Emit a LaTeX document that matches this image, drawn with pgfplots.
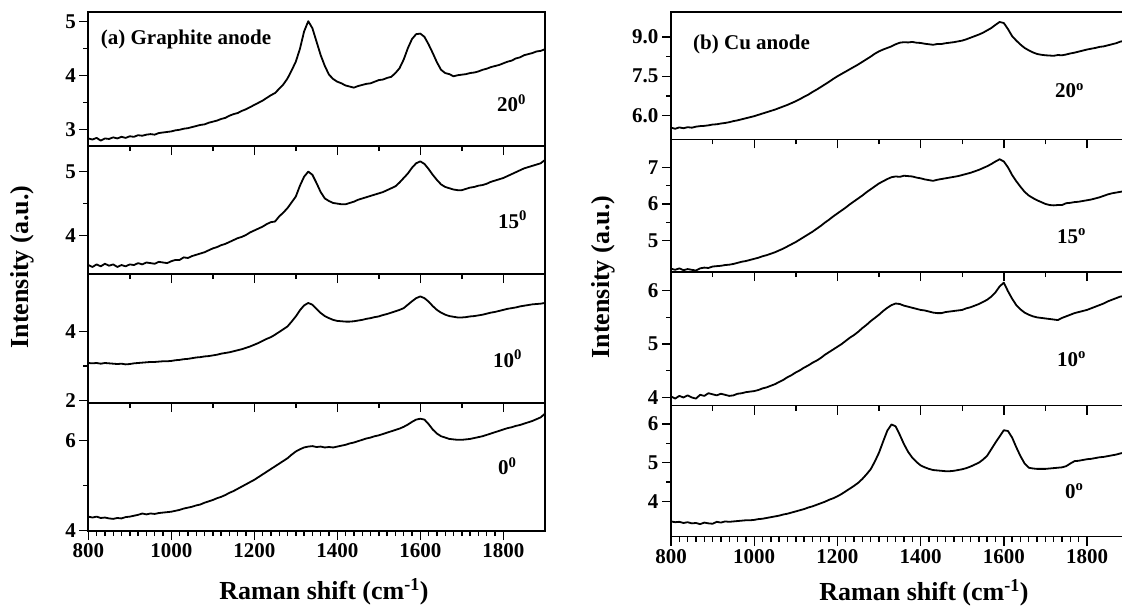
\documentclass[border=0pt]{standalone}
\usepackage{fontspec}
\setmainfont{Liberation Serif}
\usepackage{pgfplots}
\pgfplotsset{compat=1.18}
\usepackage{pgfplotstable}

\pgfplotstableread[row sep=\\]{
x L1 L2 L3 L4 R1 R2 R3 R4\\
800 2.84 3.54 3.09 4.31 5.54 4.23 4.02 3.48\\
810 2.82 3.51 3.08 4.29 5.50 4.20 3.98 3.46\\
820 2.85 3.55 3.09 4.31 5.55 4.24 4.03 3.47\\
830 2.80 3.52 3.07 4.28 5.52 4.19 4.00 3.44\\
840 2.84 3.56 3.09 4.29 5.56 4.22 4.04 3.46\\
850 2.83 3.53 3.08 4.27 5.54 4.20 4.00 3.43\\
860 2.86 3.55 3.07 4.26 5.58 4.18 3.98 3.44\\
870 2.84 3.51 3.06 4.28 5.60 4.24 4.05 3.41\\
880 2.87 3.54 3.07 4.27 5.61 4.26 4.03 3.45\\
890 2.85 3.52 3.05 4.30 5.63 4.25 4.08 3.43\\
900 2.88 3.55 3.06 4.31 5.66 4.29 4.06 3.42\\
910 2.87 3.54 3.08 4.33 5.67 4.30 4.04 3.47\\
920 2.90 3.57 3.09 4.35 5.70 4.31 4.07 3.45\\
930 2.89 3.55 3.10 4.38 5.72 4.33 4.05 3.48\\
940 2.91 3.58 3.11 4.36 5.75 4.34 4.03 3.47\\
950 2.92 3.57 3.12 4.38 5.79 4.36 4.04 3.48\\
960 2.91 3.56 3.12 4.37 5.82 4.39 4.07 3.49\\
970 2.94 3.59 3.13 4.39 5.86 4.42 4.08 3.50\\
980 2.95 3.58 3.14 4.40 5.90 4.44 4.10 3.51\\
990 2.96 3.57 3.14 4.41 5.94 4.47 4.11 3.51\\
1000 2.97 3.60 3.15 4.42 5.98 4.50 4.12 3.52\\
1010 2.99 3.62 3.17 4.44 6.03 4.53 4.14 3.54\\
1020 3.00 3.62 3.18 4.46 6.08 4.57 4.17 3.55\\
1030 3.02 3.66 3.20 4.49 6.13 4.60 4.19 3.57\\
1040 3.03 3.65 3.21 4.51 6.18 4.64 4.22 3.59\\
1050 3.05 3.68 3.23 4.53 6.23 4.68 4.25 3.61\\
1060 3.07 3.70 3.25 4.56 6.29 4.73 4.29 3.63\\
1070 3.09 3.72 3.26 4.58 6.35 4.78 4.33 3.66\\
1080 3.10 3.74 3.28 4.62 6.41 4.84 4.38 3.68\\
1090 3.13 3.77 3.29 4.65 6.48 4.90 4.42 3.71\\
1100 3.15 3.80 3.31 4.68 6.55 4.96 4.47 3.74\\
1110 3.17 3.82 3.33 4.72 6.63 5.03 4.51 3.77\\
1120 3.20 3.85 3.36 4.75 6.72 5.10 4.56 3.80\\
1130 3.22 3.87 3.38 4.79 6.80 5.17 4.60 3.84\\
1140 3.26 3.90 3.40 4.84 6.90 5.24 4.65 3.87\\
1150 3.29 3.93 3.43 4.88 6.99 5.32 4.69 3.91\\
1160 3.31 3.96 3.46 4.93 7.09 5.40 4.74 3.95\\
1170 3.35 3.98 3.49 4.98 7.19 5.49 4.80 3.99\\
1180 3.38 4.01 3.53 5.03 7.29 5.57 4.85 4.04\\
1190 3.42 4.05 3.57 5.08 7.40 5.66 4.90 4.08\\
1200 3.46 4.08 3.62 5.13 7.50 5.74 4.95 4.13\\
1210 3.50 4.11 3.67 5.19 7.59 5.82 5.00 4.19\\
1220 3.54 4.14 3.73 5.25 7.68 5.90 5.06 4.26\\
1230 3.59 4.18 3.79 5.31 7.77 5.99 5.12 4.33\\
1240 3.64 4.21 3.84 5.37 7.86 6.07 5.17 4.40\\
1250 3.68 4.22 3.91 5.43 7.95 6.15 5.23 4.48\\
1260 3.76 4.30 3.99 5.49 8.05 6.23 5.30 4.58\\
1270 3.84 4.36 4.07 5.55 8.15 6.32 5.36 4.70\\
1280 3.95 4.43 4.15 5.61 8.25 6.40 5.43 4.83\\
1290 4.10 4.52 4.29 5.69 8.36 6.48 5.49 5.03\\
1300 4.26 4.61 4.44 5.76 8.45 6.56 5.55 5.26\\
1310 4.50 4.78 4.62 5.81 8.52 6.62 5.62 5.55\\
1320 4.82 4.92 4.76 5.85 8.58 6.68 5.68 5.83\\
1330 5.01 5.00 4.83 5.87 8.64 6.73 5.73 5.99\\
1340 4.88 4.95 4.78 5.88 8.72 6.75 5.76 5.94\\
1350 4.63 4.82 4.66 5.86 8.78 6.74 5.75 5.72\\
1360 4.38 4.68 4.54 5.87 8.80 6.77 5.72 5.48\\
1370 4.18 4.58 4.45 5.85 8.79 6.76 5.70 5.28\\
1380 4.02 4.54 4.39 5.86 8.81 6.75 5.68 5.13\\
1390 3.94 4.51 4.34 5.85 8.78 6.72 5.66 5.02\\
1400 3.89 4.50 4.31 5.87 8.77 6.70 5.64 4.93\\
1410 3.86 4.49 4.30 5.89 8.74 6.67 5.63 4.88\\
1420 3.82 4.49 4.29 5.91 8.72 6.65 5.61 4.84\\
1430 3.80 4.51 4.29 5.94 8.70 6.63 5.59 4.81\\
1440 3.78 4.53 4.30 5.96 8.73 6.66 5.58 4.80\\
1450 3.81 4.56 4.32 5.99 8.73 6.68 5.58 4.79\\
1460 3.83 4.58 4.34 6.02 8.76 6.70 5.60 4.78\\
1470 3.85 4.60 4.37 6.05 8.78 6.72 5.61 4.78\\
1480 3.86 4.62 4.39 6.07 8.80 6.74 5.62 4.79\\
1490 3.89 4.64 4.42 6.10 8.83 6.76 5.63 4.81\\
1500 3.92 4.66 4.44 6.12 8.86 6.79 5.64 4.83\\
1510 3.93 4.68 4.48 6.15 8.91 6.82 5.67 4.86\\
1520 3.96 4.71 4.51 6.18 8.97 6.85 5.69 4.90\\
1530 3.98 4.74 4.55 6.21 9.03 6.89 5.72 4.95\\
1540 4.05 4.77 4.59 6.24 9.09 6.93 5.75 5.00\\
1550 4.14 4.83 4.63 6.27 9.16 6.98 5.79 5.08\\
1560 4.30 4.90 4.68 6.31 9.25 7.03 5.83 5.18\\
1570 4.51 4.97 4.78 6.36 9.34 7.09 5.89 5.35\\
1580 4.68 5.06 4.88 6.42 9.46 7.16 5.97 5.52\\
1590 4.77 5.13 4.97 6.47 9.57 7.22 6.08 5.68\\
1600 4.78 5.16 5.02 6.49 9.53 7.16 6.15 5.84\\
1610 4.72 5.12 4.97 6.47 9.30 7.00 5.99 5.82\\
1620 4.58 5.04 4.87 6.37 9.03 6.79 5.85 5.65\\
1630 4.42 4.95 4.74 6.25 8.86 6.62 5.73 5.40\\
1640 4.25 4.87 4.63 6.16 8.71 6.47 5.65 5.17\\
1650 4.11 4.80 4.55 6.10 8.58 6.33 5.59 4.98\\
1660 4.05 4.76 4.49 6.07 8.49 6.23 5.55 4.87\\
1670 4.03 4.74 4.45 6.04 8.41 6.16 5.52 4.85\\
1680 3.99 4.72 4.43 6.03 8.35 6.10 5.50 4.84\\
1690 4.01 4.71 4.41 6.02 8.32 6.05 5.49 4.84\\
1700 4.02 4.71 4.41 6.02 8.30 6.00 5.48 4.84\\
1710 4.03 4.73 4.42 6.03 8.29 5.97 5.47 4.85\\
1720 4.05 4.75 4.44 6.04 8.28 5.96 5.46 4.86\\
1730 4.06 4.76 4.45 6.06 8.31 5.97 5.45 4.87\\
1740 4.08 4.78 4.47 6.08 8.30 5.97 5.49 4.88\\
1750 4.11 4.79 4.49 6.10 8.33 6.02 5.52 4.91\\
1760 4.13 4.81 4.52 6.13 8.37 6.03 5.55 4.98\\
1770 4.16 4.84 4.55 6.16 8.40 6.05 5.58 5.04\\
1780 4.18 4.86 4.57 6.19 8.44 6.06 5.60 5.05\\
1790 4.20 4.88 4.60 6.22 8.48 6.08 5.62 5.07\\
1800 4.23 4.90 4.63 6.25 8.52 6.10 5.64 5.09\\
1810 4.26 4.93 4.66 6.28 8.55 6.12 5.67 5.10\\
1820 4.28 4.96 4.68 6.30 8.58 6.15 5.70 5.12\\
1830 4.32 4.99 4.70 6.33 8.62 6.18 5.73 5.14\\
1840 4.34 5.02 4.73 6.35 8.64 6.22 5.76 5.15\\
1850 4.38 5.05 4.75 6.38 8.68 6.26 5.80 5.17\\
1860 4.40 5.07 4.77 6.41 8.72 6.29 5.83 5.19\\
1870 4.42 5.09 4.79 6.44 8.76 6.31 5.86 5.21\\
1880 4.45 5.11 4.80 6.48 8.82 6.33 5.89 5.24\\
1890 4.46 5.13 4.81 6.52 8.85 6.35 5.90 5.26\\
1900 4.49 5.18 4.83 6.60 8.87 6.37 5.92 5.28\\
}\spec

\pgfplotsset{
  sub/.style={
    scale only axis, xmin=800, xmax=1900,
    axis line style={line width=1.8pt},
    every tick/.style={black, line width=1.4pt},
    tick align=outside, xtick pos=left, ytick pos=left,
    major tick length=9pt, minor tick length=5pt,
    xtick={800,1000,...,1800}, minor x tick num=1, xticklabels={},
    minor y tick num=1,
    tick label style={font=\bfseries\fontsize{21}{21}\selectfont},
    /pgf/number format/assume math mode=true,
  },
  bottomsub/.style={
    minor x tick num=9,
    xticklabels={800,1000,1200,1400,1600,1800},
  },
  curve/.style={black, line width=1.8pt, no marks, line join=round},
}

\begin{document}
\begin{tikzpicture}
\useasboundingbox (0pt,0pt) rectangle (1122pt,-607pt);

% ---------- Left panel (a) ----------
\begin{axis}[sub, at={(88.3pt,-12pt)}, anchor=north west, width=456.5pt, height=134pt,
  ymin=2.70, ymax=5.18, ytick={3,4,5}, yticklabels={3,4,5}]
\addplot[curve] table[x=x,y=L1]{\spec};
\end{axis}
\begin{axis}[sub, at={(88.3pt,-146pt)}, anchor=north west, width=456.5pt, height=128pt,
  ymin=3.40, ymax=5.40, ytick={4,5}, yticklabels={4,5}]
\addplot[curve] table[x=x,y=L2]{\spec};
\end{axis}
\begin{axis}[sub, at={(88.3pt,-274pt)}, anchor=north west, width=456.5pt, height=129pt,
  ymin=1.93, ymax=5.67, ytick={2,4}, yticklabels={2,4}]
\addplot[curve] table[x=x,y=L3]{\spec};
\end{axis}
\begin{axis}[sub, bottomsub, at={(88.3pt,-403pt)}, anchor=north west, width=456.5pt, height=128pt,
  ymin=3.99, ymax=6.84, ytick={4,6}, yticklabels={4,6}]
\addplot[curve] table[x=x,y=L4]{\spec};
\end{axis}

% ---------- Right panel (b) ----------
\begin{axis}[sub, at={(671pt,-12pt)}, anchor=north west, width=457.6pt, height=127.5pt,
  ymin=5.09, ymax=9.95, ytick={6,7.5,9}, yticklabels={6.0,7.5,9.0}]
\addplot[curve] table[x=x,y=R1]{\spec};
\end{axis}
\begin{axis}[sub, at={(671pt,-139.5pt)}, anchor=north west, width=457.6pt, height=132.5pt,
  ymin=4.14, ymax=7.76, ytick={5,6,7}, yticklabels={5,6,7}]
\addplot[curve] table[x=x,y=R2]{\spec};
\end{axis}
\begin{axis}[sub, at={(671pt,-272pt)}, anchor=north west, width=457.6pt, height=133.5pt,
  ymin=3.85, ymax=6.35, ytick={4,5,6}, yticklabels={4,5,6}]
\addplot[curve] table[x=x,y=R3]{\spec};
\end{axis}
\begin{axis}[sub, bottomsub, at={(671pt,-405.5pt)}, anchor=north west, width=457.6pt, height=131pt,
  ymin=3.09, ymax=6.48, ytick={4,5,6}, yticklabels={4,5,6}]
\addplot[curve] table[x=x,y=R4]{\spec};
\end{axis}

% ---------- Texts ----------
\tikzset{lab/.style={font=\bfseries\fontsize{21}{21}\selectfont, inner sep=0pt}}
\node[lab, anchor=base west] at (100.7pt,-44.3pt) {(a) Graphite anode};
\node[lab, anchor=base west] at (693pt,-50pt) {(b) Cu anode};

\node[lab, anchor=base west] at (497pt,-111.7pt) {20\textsuperscript{0}};
\node[lab, anchor=base west] at (498pt,-228.3pt) {15\textsuperscript{0}};
\node[lab, anchor=base west] at (493pt,-367.3pt) {10\textsuperscript{0}};
\node[lab, anchor=base west] at (498pt,-474.7pt) {0\textsuperscript{0}};

\node[lab, anchor=base west] at (1055pt,-97.7pt) {20\textsuperscript{o}};
\node[lab, anchor=base west] at (1057pt,-243pt) {15\textsuperscript{o}};
\node[lab, anchor=base west] at (1057pt,-366.3pt) {10\textsuperscript{o}};
\node[lab, anchor=base west] at (1065pt,-498.3pt) {0\textsuperscript{o}};

\tikzset{axlab/.style={font=\bfseries\fontsize{26}{26}\selectfont, inner sep=0pt}}
\node[axlab, rotate=90] at (22pt,-267pt) {Intensity (a.u.)};
\node[axlab, rotate=90] at (603pt,-277pt) {Intensity (a.u.)};
\node[axlab] at (324pt,-592pt) {Raman shift (cm\textsuperscript{-1})};
\node[axlab] at (924pt,-593pt) {Raman shift (cm\textsuperscript{-1})};
\end{tikzpicture}
\end{document}
